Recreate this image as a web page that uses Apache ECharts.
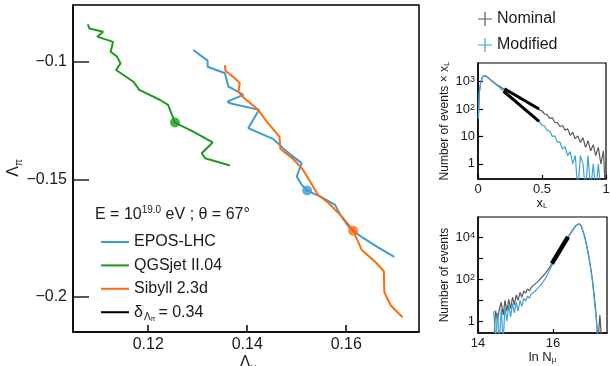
<!DOCTYPE html>
<html><head><meta charset="utf-8">
<script src="https://cdn.jsdelivr.net/npm/echarts@6/dist/echarts.min.js"></script>
<style>html,body{margin:0;padding:0;background:#fff}#c{width:610px;height:366px}</style>
</head><body><div id="c"></div>
<script>
// ---------- main panel: Lambda_mu (x) vs Lambda_pi (y) ----------
const eposLmu = [0.1291,0.1320,0.1320,0.1355,0.1362,0.1385,0.1392,0.1360,0.1365,0.1424,0.1402,0.1405,0.1453,0.1480,0.1510,0.1500,0.1510,0.1521,0.1547,0.1577,0.1589,0.1607,0.1634,0.1661,0.1697];
const eposLpi = [-0.0949,-0.0994,-0.1020,-0.1048,-0.1105,-0.1131,-0.1140,-0.1169,-0.1176,-0.1204,-0.1282,-0.1289,-0.1329,-0.1382,-0.1431,-0.1488,-0.1523,-0.1548,-0.1573,-0.1608,-0.1655,-0.1708,-0.1750,-0.1786,-0.1831];
const qgsLmu = [0.1078,0.1081,0.1109,0.1097,0.1129,0.1124,0.1137,0.1144,0.1135,0.1170,0.1182,0.1224,0.1240,0.1254,0.1291,0.1330,0.1308,0.1315,0.1365];
const qgsLpi = [-0.0840,-0.0857,-0.0871,-0.0892,-0.0914,-0.0956,-0.0977,-0.1006,-0.1034,-0.1084,-0.1119,-0.1162,-0.1183,-0.1258,-0.1297,-0.1343,-0.1389,-0.1410,-0.1441];
const sibLmu = [0.1355,0.1356,0.1375,0.1385,0.1382,0.1392,0.1422,0.1442,0.1465,0.1467,0.1493,0.1513,0.1527,0.1543,0.1564,0.1591,0.1614,0.1631,0.1661,0.1676,0.1677,0.1690,0.1714];
const sibLpi = [-0.1013,-0.1037,-0.1069,-0.1091,-0.1126,-0.1150,-0.1204,-0.1261,-0.1318,-0.1371,-0.1414,-0.1460,-0.1509,-0.1566,-0.1601,-0.1658,-0.1719,-0.1800,-0.1857,-0.1892,-0.1982,-0.2038,-0.2088];
const nominalPoints = { epos: [0.1521, -0.1548], qgs: [0.1254, -0.1258], sib: [0.1614, -0.1719] };
const mainXTicks = [0.12, 0.14, 0.16];
const mainYTicks = [-0.2, -0.15, -0.1];

// ---------- top-right panel: x_L distribution ----------
const xlBins = [0.003,0.01,0.02,0.03,0.04,0.05,0.06,0.07,0.08,0.09,0.1,0.12,0.14,0.16,0.18,0.2,0.22,0.24,0.26,0.28,0.3,0.32,0.34,0.36,0.38,0.4,0.42,0.44,0.46,0.48,0.5,0.52,0.54,0.56,0.58,0.6,0.62,0.64,0.66,0.68,0.7,0.72,0.74,0.76,0.78,0.8,0.82,0.84,0.86,0.88,0.9,0.92,0.94,0.96,0.98,0.995];
const xlNominal = [45,400,890,1320,1580,1660,1620,1510,1380,1260,1150,980,830,710,620,540,480,417,370,325,288,251,224,200,174,155,135,120,107,93,85,66,63,46,48,33,32,23,25,17,19,11,14,8.3,10.5,6,9,4,7,3,5,2,4,1,3,0.1];
const xlModified = [45,400,890,1320,1580,1660,1620,1480,1350,1230,1120,930,790,660,550,457,380,316,263,219,182,151,126,105,87,72,60,50,42,35,26,24,16.6,15.8,10,10.5,6,6.3,3.5,4.2,2,2.8,1,2,0.1,2,1,0.1,2,0.1,1,0.1,1,0.1,0.1,0.1];
const xlFitNomX = [0.207, 0.477], xlFitNomY = [550, 100];
const xlFitModX = [0.2, 0.477],   xlFitModY = [447, 35.5];
const xlXTicks = [0, 0.5, 1];
const xlYTicks = [1, 10, 100, 1000];

// ---------- bottom-right panel: ln N_mu distribution ----------
const lnBins = [14.42,14.47,14.52,14.57,14.62,14.67,14.72,14.77,14.82,14.87,14.92,14.97,15.02,15.07,15.12,15.17,15.22,15.27,15.32,15.37,15.42,15.5,15.6,15.7,15.8,15.9,16.0,16.1,16.2,16.3,16.4,16.5,16.6,16.65,16.7,16.75,16.8,16.85,16.9,16.95,17.0,17.05,17.1,17.15,17.2,17.25,17.3];
const lnNominal = [0.1,3.2,1,4,8,2,10,3,11,4,14,6,18,10,24,14,28,22,35,28,42,56,80,126,200,355,660,1300,2700,5400,10500,19000,35500,43600,45700,35500,20000,10000,4000,1400,400,100,16,2,0.1,2,0.1];
const lnModified = [3.2,0.1,2.5,0.1,4,0.1,5,1,6,1.6,7,2.5,8,3,10,5,12.6,9,16,12.6,20,25,38,63,112,250,600,1260,2630,5500,10700,19500,36300,44700,45700,36300,20000,9500,3800,1300,360,90,12,1.6,0.1,0.1,0.1];
const lnFitX = [15.97, 16.4], lnFitY = [562, 10700];
const lnXTicks = [14, 16];
const lnYLabels = [1, 100, 10000];
const lnYTicks = [1, 10, 100, 1000, 10000];

const pairs = (xs, ys) => xs.map((x, i) => [x, ys[i]]);
const FONT = '"Liberation Sans", Arial, Helvetica, sans-serif';
const TXT = '#1a1a1a';
const C_EPOS = '#3b9bd6', C_QGS = '#1d9a1d', C_SIB = '#ff6a0d';
const C_NOM = '#5a5a5a', C_MOD = '#3fa1d8';

const logFmt = v => {
  const p = Math.round(Math.log10(v));
  if (p === 0) return '1';
  if (p === 1) return '10';
  return '10{sup|' + p + '}';
};
const supRich = { sup: { fontSize: 9, verticalAlign: 'top', lineHeight: 9, fontFamily: FONT, color: TXT, padding: [0, 0, 6, 0] } };
const greekRich = {
  a: { fontSize: 16, fontFamily: FONT, fill: TXT, lineHeight: 20 },
  b: { fontSize: 10, fontFamily: FONT, fill: TXT, lineHeight: 10, verticalAlign: 'bottom' }
};

function axisCommon(extra) {
  return Object.assign({
    axisLine: { show: true, onZero: false, lineStyle: { color: '#000', width: 1.5 } },
    splitLine: { show: false },
    nameTextStyle: { fontFamily: FONT, color: TXT }
  }, extra);
}

const chart = echarts.init(document.getElementById('c'), null, { renderer: 'canvas' });
chart.setOption({
  animation: false,
  backgroundColor: '#fff',
  textStyle: { fontFamily: FONT },
  grid: [
    { left: 73, top: 5, width: 346, height: 327, show: true, borderColor: '#000', borderWidth: 1.5, containLabel: false, outerBoundsMode: 'none' },
    { left: 478, top: 63, width: 128, height: 116, show: true, borderColor: '#000', borderWidth: 1.2, containLabel: false, outerBoundsMode: 'none' },
    { left: 478, top: 217, width: 129, height: 116, show: true, borderColor: '#000', borderWidth: 1.2, containLabel: false, outerBoundsMode: 'none' }
  ],
  xAxis: [
    axisCommon({ gridIndex: 0, type: 'value', min: 0.1048, max: 0.1747,
      axisTick: { inside: true, length: 7, customValues: mainXTicks, lineStyle: { color: '#000', width: 1.5 } },
      axisLabel: { customValues: mainXTicks, fontSize: 16, color: TXT, margin: 5, fontFamily: FONT } }),
    axisCommon({ gridIndex: 1, type: 'value', min: 0, max: 1,
      axisTick: { inside: true, length: 4, customValues: xlXTicks, lineStyle: { color: '#000', width: 1.2 } },
      axisLabel: { customValues: xlXTicks, fontSize: 13, color: TXT, margin: 4, fontFamily: FONT },
      name: '{a|x}{b|L}', nameLocation: 'middle', nameGap: 15,
      nameTextStyle: { rich: { a: { fontSize: 13, fontFamily: FONT, color: TXT }, b: { fontSize: 8, fontFamily: FONT, color: TXT, verticalAlign: 'bottom', padding: [5, 0, 0, 0] } } } }),
    axisCommon({ gridIndex: 2, type: 'value', min: 14, max: 17.44,
      axisTick: { inside: true, length: 4, customValues: lnXTicks, lineStyle: { color: '#000', width: 1.2 } },
      axisLabel: { customValues: lnXTicks, fontSize: 13, color: TXT, margin: 4, fontFamily: FONT },
      name: '{a|ln N}{b|μ}', nameLocation: 'middle', nameGap: 16,
      nameTextStyle: { rich: { a: { fontSize: 13, fontFamily: FONT, color: TXT }, b: { fontSize: 8, fontFamily: FONT, color: TXT, verticalAlign: 'bottom', padding: [5, 0, 0, 0] } } } })
  ],
  yAxis: [
    axisCommon({ gridIndex: 0, type: 'value', min: -0.2151, max: -0.0757,
      axisTick: { inside: true, length: 16, customValues: mainYTicks, lineStyle: { color: '#222', width: 1.5 } },
      axisLabel: { customValues: mainYTicks, fontSize: 16, color: TXT, margin: 6, fontFamily: FONT,
        formatter: v => String(v).replace('-', '\u2212') } }),
    axisCommon({ gridIndex: 1, type: 'log', logBase: 10, min: 0.28, max: 4800,
      axisTick: { inside: true, length: 5, customValues: xlYTicks, lineStyle: { color: '#000', width: 1.2 } },
      axisLabel: { customValues: xlYTicks, fontSize: 13, color: TXT, margin: 3, fontFamily: FONT, formatter: logFmt, rich: supRich },
      name: '{a|Number of events × x}{b|L}', nameLocation: 'middle', nameGap: 27, nameRotate: 90,
      nameTextStyle: { rich: { a: { fontSize: 12, fontFamily: FONT, color: TXT }, b: { fontSize: 8, fontFamily: FONT, color: TXT, verticalAlign: 'bottom', padding: [5, 0, 0, 0] } } } }),
    axisCommon({ gridIndex: 2, type: 'log', logBase: 10, min: 0.275, max: 95000,
      axisTick: { inside: true, length: 5, customValues: lnYTicks, lineStyle: { color: '#000', width: 1.2 } },
      axisLabel: { customValues: lnYLabels, fontSize: 13, color: TXT, margin: 3, fontFamily: FONT, formatter: logFmt, rich: supRich },
      name: 'Number of events', nameLocation: 'middle', nameGap: 27, nameRotate: 90,
      nameTextStyle: { fontSize: 12, fontFamily: FONT, color: TXT } })
  ],
  legend: [
    { data: ['EPOS-LHC', 'QGSjet II.04', 'Sibyll 2.3d', 'delta'], orient: 'vertical', left: 96, top: 227,
      itemWidth: 28, itemHeight: 2, itemGap: 3.4, icon: 'rect', selectedMode: false,
      textStyle: { fontSize: 16, color: TXT, fontFamily: FONT, lineHeight: 20,
        rich: { t: { fontSize: 16, fontFamily: FONT, color: TXT, lineHeight: 20 },
                s: { fontSize: 10, fontFamily: FONT, color: TXT, lineHeight: 10, verticalAlign: 'bottom', padding: [0, 0, 0, 1] },
                ss: { fontSize: 7, fontFamily: FONT, color: TXT, lineHeight: 7, verticalAlign: 'bottom', padding: [0, 3, 0, 0] } } },
      formatter: n => n === 'delta' ? '{t|δ}{s|Λ}{ss|π}{t|= 0.34}' : n },
    { data: ['Nominal', 'Modified'], orient: 'vertical', left: 473, top: 5,
      itemWidth: 14, itemHeight: 14, itemGap: 8, selectedMode: false,
      icon: 'path://M6.4,0h1.2v6.4h6.4v1.2h-6.4v6.4h-1.2v-6.4h-6.4v-1.2h6.4z',
      textStyle: { fontSize: 16, color: TXT, fontFamily: FONT, lineHeight: 18 } }
  ],
  graphic: [
    { type: 'text', left: 95, top: 205, silent: true,
      style: { text: '{t|E = 10}{p|19.0}{t| eV ; θ = 67°}',
        rich: { t: { fontSize: 16, fontFamily: FONT, fill: TXT, lineHeight: 20 },
                p: { fontSize: 10, fontFamily: FONT, fill: TXT, verticalAlign: 'top', lineHeight: 10 } } } },
    { type: 'text', x: 248, y: 363, silent: true,
      style: { text: '{a|Λ}{b|μ}', align: 'center', verticalAlign: 'middle', rich: greekRich } },
    { type: 'text', x: 14, y: 168, rotation: Math.PI / 2, silent: true,
      style: { text: '{a|Λ}{b|π}', align: 'center', verticalAlign: 'middle', rich: greekRich } }
  ],
  series: [
    { name: 'EPOS-LHC', type: 'line', xAxisIndex: 0, yAxisIndex: 0, data: pairs(eposLmu, eposLpi), showSymbol: false, color: C_EPOS, lineStyle: { width: 2 }, z: 2 },
    { name: 'QGSjet II.04', type: 'line', xAxisIndex: 0, yAxisIndex: 0, data: pairs(qgsLmu, qgsLpi), showSymbol: false, color: C_QGS, lineStyle: { width: 2 }, z: 2 },
    { name: 'Sibyll 2.3d', type: 'line', xAxisIndex: 0, yAxisIndex: 0, data: pairs(sibLmu, sibLpi), showSymbol: false, color: C_SIB, lineStyle: { width: 2 }, z: 3 },
    { name: 'delta', type: 'line', xAxisIndex: 0, yAxisIndex: 0, data: [], color: '#000', lineStyle: { width: 2 } },
    { name: 'EPOS point', type: 'scatter', xAxisIndex: 0, yAxisIndex: 0, data: [nominalPoints.epos], symbolSize: 10, color: C_EPOS, z: 5 },
    { name: 'QGS point', type: 'scatter', xAxisIndex: 0, yAxisIndex: 0, data: [nominalPoints.qgs], symbolSize: 10, color: C_QGS, z: 5 },
    { name: 'Sib point', type: 'scatter', xAxisIndex: 0, yAxisIndex: 0, data: [nominalPoints.sib], symbolSize: 10, color: C_SIB, z: 5 },

    { name: 'Nominal', type: 'line', xAxisIndex: 1, yAxisIndex: 1, data: pairs(xlBins, xlNominal), showSymbol: false, color: C_NOM, lineStyle: { width: 1.2 }, clip: true, z: 2 },
    { name: 'Modified', type: 'line', xAxisIndex: 1, yAxisIndex: 1, data: pairs(xlBins, xlModified), showSymbol: false, color: C_MOD, lineStyle: { width: 1.2 }, clip: true, z: 3 },
    { name: 'fitNomXL', type: 'line', xAxisIndex: 1, yAxisIndex: 1, data: pairs(xlFitNomX, xlFitNomY), showSymbol: false, color: '#000', lineStyle: { width: 3 }, z: 4 },
    { name: 'fitModXL', type: 'line', xAxisIndex: 1, yAxisIndex: 1, data: pairs(xlFitModX, xlFitModY), showSymbol: false, color: '#000', lineStyle: { width: 3 }, z: 4 },

    { name: 'Nominal', type: 'line', xAxisIndex: 2, yAxisIndex: 2, data: pairs(lnBins, lnNominal), showSymbol: false, color: C_NOM, lineStyle: { width: 1.2 }, clip: true, z: 2 },
    { name: 'Modified', type: 'line', xAxisIndex: 2, yAxisIndex: 2, data: pairs(lnBins, lnModified), showSymbol: false, color: C_MOD, lineStyle: { width: 1.2 }, clip: true, z: 3 },
    { name: 'fitLn', type: 'line', xAxisIndex: 2, yAxisIndex: 2, data: pairs(lnFitX, lnFitY), showSymbol: false, color: '#000', lineStyle: { width: 4.5 }, z: 4 }
  ]
});
</script>
</body></html>
